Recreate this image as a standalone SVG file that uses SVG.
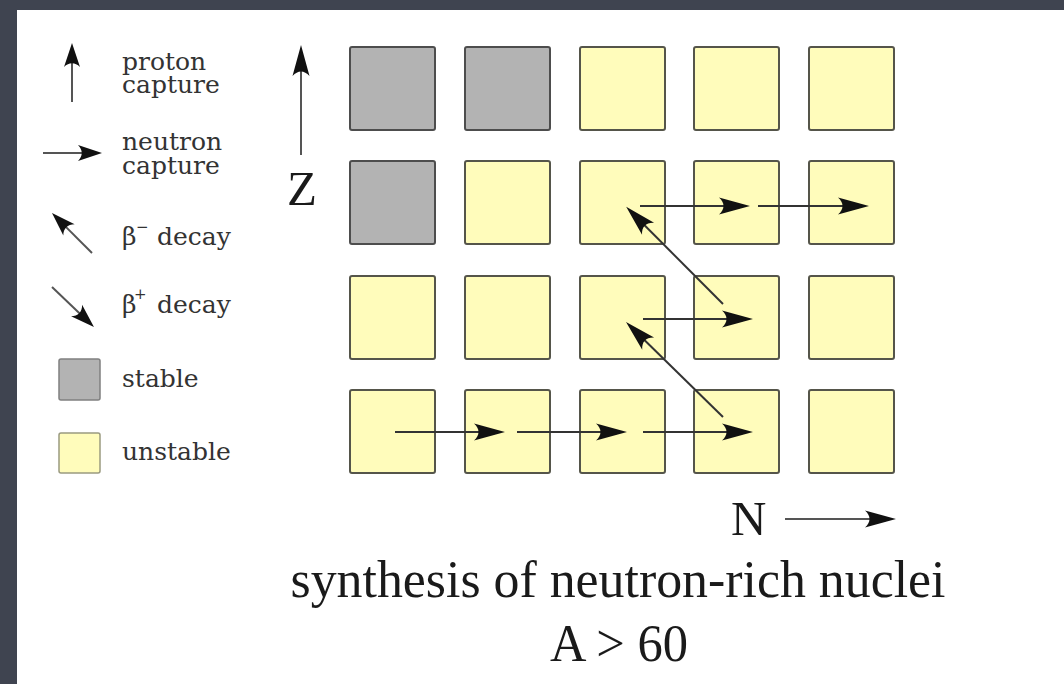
<svg xmlns="http://www.w3.org/2000/svg" width="1064" height="684" viewBox="0 0 1064 684">
  <style>
    .stable { fill: #b3b3b3; stroke: #4d4d4d; stroke-width: 2; }
    .unstable { fill: #fffcbb; stroke: #55554a; stroke-width: 2; }
    .lstable { fill: #b3b3b3; stroke: #808080; stroke-width: 1.5; }
    .lunstable { fill: #fffcbb; stroke: #9a9a80; stroke-width: 1.5; }
    .conn { stroke: #333; stroke-width: 2; fill: none; }
    .lconn { stroke: #555; stroke-width: 2; fill: none; }
    .leg { font-family: "DejaVu Serif", serif; font-size: 25px; fill: #333; }
    .big { font-family: "Liberation Serif", "Times New Roman", serif; fill: #1a1a1a; }
  </style>
  <defs>
    <marker id="ah" markerUnits="userSpaceOnUse" viewBox="-32 -10 34 20" markerWidth="34" markerHeight="20" refX="-20" refY="0" orient="auto">
      <path d="M0,0 L-31,-8.5 C-25,-3 -25,3 -31,8.5 Z" fill="#111"/>
    </marker>
    <marker id="ahs" markerUnits="userSpaceOnUse" viewBox="-26 -10 28 20" markerWidth="28" markerHeight="20" refX="-15" refY="0" orient="auto">
      <path d="M0,0 L-24,-8 C-19,-3 -19,3 -24,8 Z" fill="#111"/>
    </marker>
  </defs>

  <rect x="0" y="0" width="1064" height="684" fill="#3f4450"/>
  <rect x="17" y="10" width="1047" height="674" fill="#ffffff"/>

  <g id="legend">
    <g id="legend-proton">
      <line class="lconn" x1="72" y1="102" x2="72" y2="58" marker-end="url(#ahs)"/>
      <text class="leg" x="122" y="70">proton</text>
      <text class="leg" x="122" y="93">capture</text>
    </g>
    <g id="legend-neutron">
      <line class="lconn" x1="43" y1="153" x2="87" y2="153" marker-end="url(#ahs)"/>
      <text class="leg" x="122" y="150">neutron</text>
      <text class="leg" x="122" y="174">capture</text>
    </g>
    <g id="legend-betaminus">
      <line class="lconn" x1="92" y1="253" x2="62.6" y2="223.6" marker-end="url(#ahs)"/>
      <text class="leg" x="122" y="245">β<tspan font-size="15" x="136" y="232">−</tspan><tspan x="157" y="245">decay</tspan></text>
    </g>
    <g id="legend-betaplus">
      <line class="lconn" x1="52" y1="287" x2="83.1" y2="316.7" marker-end="url(#ahs)"/>
      <text class="leg" x="122" y="313">β<tspan font-size="15" x="134" y="299">+</tspan><tspan x="157" y="313">decay</tspan></text>
    </g>
    <g id="legend-stable">
      <rect class="lstable" x="59" y="359" width="41" height="41" rx="2"/>
      <text class="leg" x="122" y="387">stable</text>
    </g>
    <g id="legend-unstable">
      <rect class="lunstable" x="59" y="433" width="41" height="40" rx="2"/>
      <text class="leg" x="122" y="460">unstable</text>
    </g>
  </g>

  <g id="nuclei">
    <rect id="n-r1c1" class="stable" x="350" y="47" width="85" height="83" rx="2"/>
    <rect id="n-r1c2" class="stable" x="465" y="47" width="85" height="83" rx="2"/>
    <rect id="n-r1c3" class="unstable" x="580" y="47" width="85" height="83" rx="2"/>
    <rect id="n-r1c4" class="unstable" x="694" y="47" width="85" height="83" rx="2"/>
    <rect id="n-r1c5" class="unstable" x="809" y="47" width="85" height="83" rx="2"/>

    <rect id="n-r2c1" class="stable" x="350" y="161" width="85" height="83" rx="2"/>
    <rect id="n-r2c2" class="unstable" x="465" y="161" width="85" height="83" rx="2"/>
    <rect id="n-r2c3" class="unstable" x="580" y="161" width="85" height="83" rx="2"/>
    <rect id="n-r2c4" class="unstable" x="694" y="161" width="85" height="83" rx="2"/>
    <rect id="n-r2c5" class="unstable" x="809" y="161" width="85" height="83" rx="2"/>

    <rect id="n-r3c1" class="unstable" x="350" y="276" width="85" height="83" rx="2"/>
    <rect id="n-r3c2" class="unstable" x="465" y="276" width="85" height="83" rx="2"/>
    <rect id="n-r3c3" class="unstable" x="580" y="276" width="85" height="83" rx="2"/>
    <rect id="n-r3c4" class="unstable" x="694" y="276" width="85" height="83" rx="2"/>
    <rect id="n-r3c5" class="unstable" x="809" y="276" width="85" height="83" rx="2"/>

    <rect id="n-r4c1" class="unstable" x="350" y="390" width="85" height="83" rx="2"/>
    <rect id="n-r4c2" class="unstable" x="465" y="390" width="85" height="83" rx="2"/>
    <rect id="n-r4c3" class="unstable" x="580" y="390" width="85" height="83" rx="2"/>
    <rect id="n-r4c4" class="unstable" x="694" y="390" width="85" height="83" rx="2"/>
    <rect id="n-r4c5" class="unstable" x="809" y="390" width="85" height="83" rx="2"/>
  </g>

  <g id="connectors">
    <line class="conn" x1="395" y1="432" x2="485" y2="432" marker-end="url(#ah)"/>
    <line class="conn" x1="517" y1="432" x2="607" y2="432" marker-end="url(#ah)"/>
    <line class="conn" x1="643" y1="432" x2="733" y2="432" marker-end="url(#ah)"/>
    <line class="conn" x1="723" y1="417" x2="640.3" y2="336" marker-end="url(#ah)"/>
    <line class="conn" x1="643" y1="319" x2="733" y2="319" marker-end="url(#ah)"/>
    <line class="conn" x1="723" y1="304" x2="640.3" y2="221" marker-end="url(#ah)"/>
    <line class="conn" x1="640" y1="206" x2="730" y2="206" marker-end="url(#ah)"/>
    <line class="conn" x1="758" y1="206" x2="849" y2="206" marker-end="url(#ah)"/>
  </g>

  <g id="axes">
    <g id="axis-z">
      <line class="lconn" x1="301" y1="155" x2="301" y2="65" marker-end="url(#ah)"/>
      <text class="big" x="287" y="205" font-size="49">Z</text>
    </g>
    <g id="axis-n">
      <line class="lconn" x1="785" y1="519" x2="876" y2="519" marker-end="url(#ah)"/>
      <text class="big" x="731" y="535" font-size="49">N</text>
    </g>
  </g>

  <g id="caption">
    <text class="big" x="618" y="597" font-size="53" text-anchor="middle" textLength="655" lengthAdjust="spacingAndGlyphs">synthesis of neutron-rich nuclei</text>
    <text class="big" x="619" y="661" font-size="53" text-anchor="middle" textLength="138" lengthAdjust="spacingAndGlyphs">A &gt; 60</text>
  </g>
</svg>
